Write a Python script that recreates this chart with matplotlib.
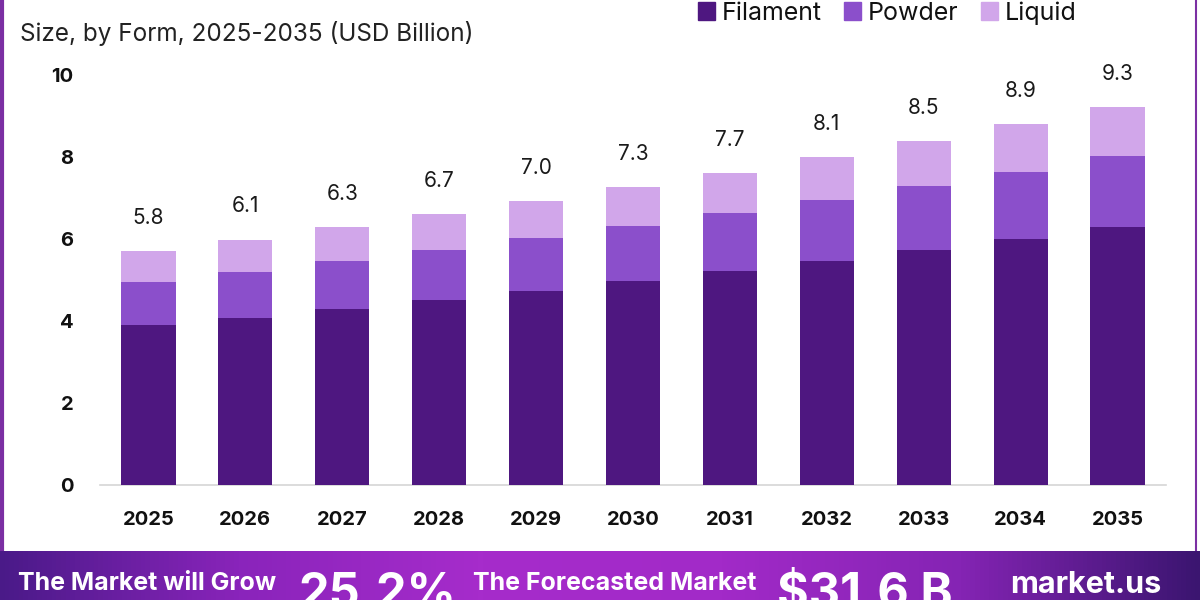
import numpy as np
import matplotlib.pyplot as plt
from matplotlib.colors import LinearSegmentedColormap
from matplotlib.patches import Patch

years = ['2025', '2026', '2027', '2028', '2029', '2030',
         '2031', '2032', '2033', '2034', '2035']
filament = [3.90, 4.07, 4.29, 4.51, 4.73, 4.98, 5.22, 5.46, 5.73, 6.00, 6.29]
powder = [1.05, 1.13, 1.17, 1.22, 1.29, 1.34, 1.41, 1.49, 1.56, 1.63, 1.73]
liquid = [0.76, 0.78, 0.83, 0.88, 0.91, 0.95, 0.98, 1.05, 1.10, 1.17, 1.20]
totals = ['5.8', '6.1', '6.3', '6.7', '7.0', '7.3', '7.7', '8.1', '8.5', '8.9', '9.3']

colors = {'Filament': '#4e1780', 'Powder': '#8b4fcb', 'Liquid': '#d1a6ea'}

plt.rcParams['font.family'] = ['Inter', 'DejaVu Sans']

fig = plt.figure(figsize=(12, 6), dpi=100)
fig.patch.set_facecolor('white')

# main plot area: baseline at y=485px, 41px per unit, x from 100px to 1166px
ax = fig.add_axes([100 / 1200, 115 / 600, 1066 / 1200, 10.5 * 41 / 600])
x = np.arange(len(years))
w = 0.56

b1 = np.array(filament)
b2 = b1 + np.array(powder)
b3 = b2 + np.array(liquid)

ax.bar(x, filament, w, color=colors['Filament'], zorder=3)
ax.bar(x, powder, w, bottom=b1, color=colors['Powder'], zorder=3)
ax.bar(x, liquid, w, bottom=b2, color=colors['Liquid'], zorder=3)

for xi, top, lab in zip(x, b3, totals):
    ax.annotate(lab, (xi, top), xytext=(0, 24), textcoords='offset points',
                ha='center', va='center', fontsize=15, color='#1a1a1a')

ax.set_xlim(-0.5, 10.5)
ax.set_ylim(0, 10.5)
ax.set_xticks(x)
ax.set_xticklabels(years, fontsize=14.5, fontweight='bold', color='#111111')
ax.set_yticks([0, 2, 4, 6, 8, 10])
ax.set_yticklabels(['0', '2', '4', '6', '8', '10'], fontsize=14.5,
                   fontweight='bold', color='#111111')
ax.tick_params(axis='both', length=0)
ax.tick_params(axis='x', pad=19)
ax.tick_params(axis='y', pad=19)
for s in ['top', 'right', 'left']:
    ax.spines[s].set_visible(False)
ax.spines['bottom'].set_color('#d6d6d6')
ax.spines['bottom'].set_linewidth(1.2)

fig.text(20 / 1200, 1 - 33 / 600, 'Size, by Form, 2025-2035 (USD Billion)',
         fontsize=17.5, color='#222222', va='center', ha='left')

handles = [Patch(color=c, label=k) for k, c in colors.items()]
fig.legend(handles=handles, loc='center', bbox_to_anchor=(887 / 1200, 1 - 13 / 600),
           ncol=3, frameon=False, fontsize=18, handlelength=0.7, handleheight=0.7,
           handletextpad=0.25, columnspacing=0.9, labelcolor='#111111')

# side borders of the card
border = fig.add_axes([0, 0, 1, 1], facecolor='none')
border.set_xlim(0, 1200)
border.set_ylim(600, 0)
border.axis('off')
border.plot([1.5, 1.5], [0, 551], color='#7b2fa3', lw=3)
border.plot([1196, 1196], [0, 551], color='#7b2fa3', lw=1.5)

# bottom banner with gradient
band = fig.add_axes([0, 0, 1, 49 / 600])
cmap = LinearSegmentedColormap.from_list(
    'band', ['#4a1a88', '#8a24bb', '#a62ccb', '#a22ac8', '#8524b4', '#3b1570'])
band.imshow(np.linspace(0, 1, 256)[None, :], aspect='auto', cmap=cmap,
            extent=[0, 1, 0, 1])
band.set_xlim(0, 1)
band.set_ylim(0, 1)
band.axis('off')

fig.text(18 / 1200, 1 - 583 / 600, 'The Market will Grow', color='white',
         fontsize=18, fontweight='bold', va='center', ha='left')
fig.text(298 / 1200, -8 / 600, '25.2%', color='white',
         fontsize=35, fontweight='bold', va='baseline', ha='left')
fig.text(473 / 1200, 1 - 583 / 600, 'The Forecasted Market', color='white',
         fontsize=18, fontweight='bold', va='center', ha='left')
fig.text(777 / 1200, -8 / 600, '$31.6 B', color='white',
         fontsize=35, fontweight='bold', va='baseline', ha='left')
fig.text(1010 / 1200, 1 - 585 / 600, 'market.us', color='white',
         fontsize=22, fontweight='bold', va='center', ha='left')

fig.savefig('out.png', dpi=100)
